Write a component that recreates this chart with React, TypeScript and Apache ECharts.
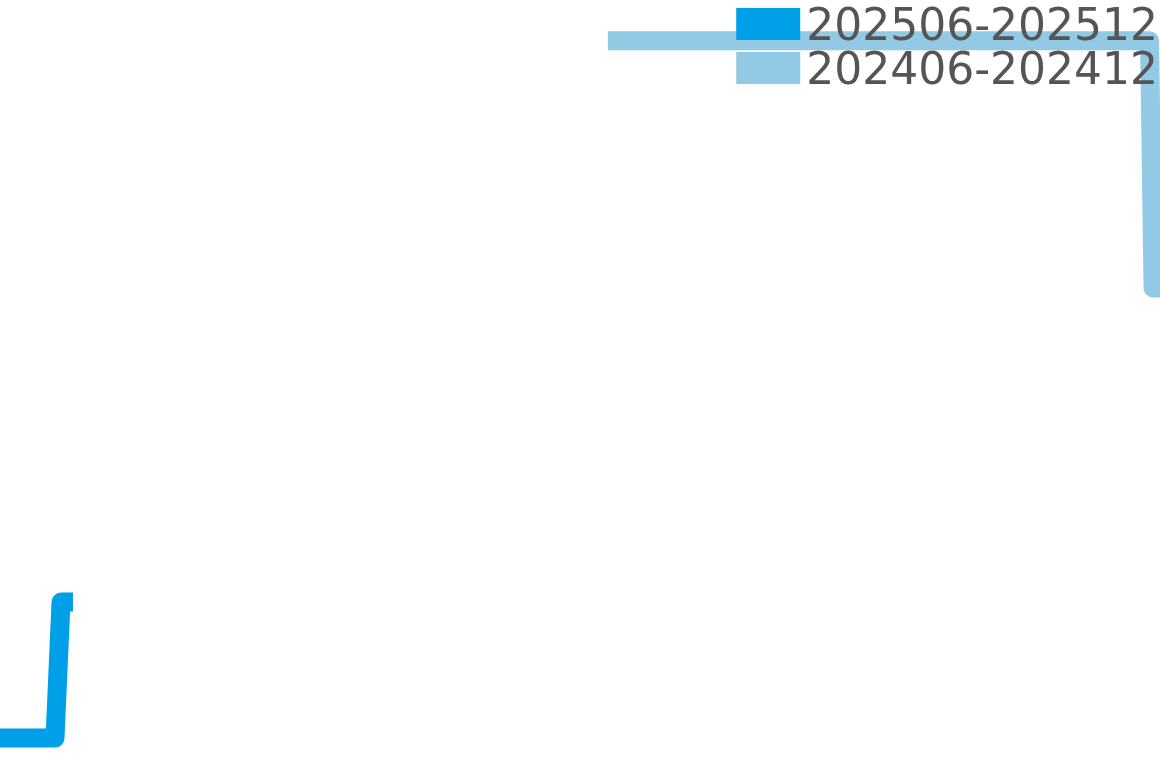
import * as echarts from 'echarts'
import { useEffect, useRef } from 'react'

// 两个周期的名称（图例）
const periodNames = ['202506-202512', '202406-202412']
const periodColors = ['#00A0E9', '#92C9E4']

// 横轴：周期内进度（%），纵轴：指数值；超出 0-100 的点被网格裁掉
const xThisYear = [-2, 4.74, 5.26, 6.29]
const yThisYear = [3.9, 3.9, 21.6, 21.6]
const xLastYear = [52.4, 99.1, 99.4, 105]
const yLastYear = [94.7, 94.7, 62.5, 62.5]

const zip = (xs: number[], ys: number[]) => xs.map((x, i) => [x, ys[i]])

export default function App() {
  const ref = useRef<HTMLDivElement>(null)

  useEffect(() => {
    if (!ref.current) return
    const chart = echarts.init(ref.current, undefined, { renderer: 'svg' })
    chart.setOption({
      animation: false,
      legend: {
        orient: 'vertical',
        right: 2,
        top: 2,
        padding: 0,
        itemWidth: 64,
        itemHeight: 32,
        itemGap: 0,
        icon: 'rect',
        data: periodNames,
        textStyle: {
          fontSize: 44,
          lineHeight: 42,
          color: '#555',
          fontFamily: 'DejaVu Sans',
          padding: [0, 0, 0, 1],
        },
      },
      grid: { left: 0, right: 0, top: 0, bottom: 0, containLabel: false },
      xAxis: { type: 'value', min: 0, max: 100, show: false },
      yAxis: { type: 'value', min: 0, max: 100, show: false },
      series: [
        {
          name: periodNames[0],
          type: 'line',
          data: zip(xThisYear, yThisYear),
          showSymbol: false,
          color: periodColors[0],
          lineStyle: { width: 19, join: 'round' },
        },
        {
          name: periodNames[1],
          type: 'line',
          data: zip(xLastYear, yLastYear),
          showSymbol: false,
          color: periodColors[1],
          lineStyle: { width: 19, join: 'round' },
        },
      ],
    })
    return () => chart.dispose()
  }, [])

  return <div ref={ref} style={{ position: 'fixed', left: 0, top: 0, width: 1160, height: 768 }} />
}
